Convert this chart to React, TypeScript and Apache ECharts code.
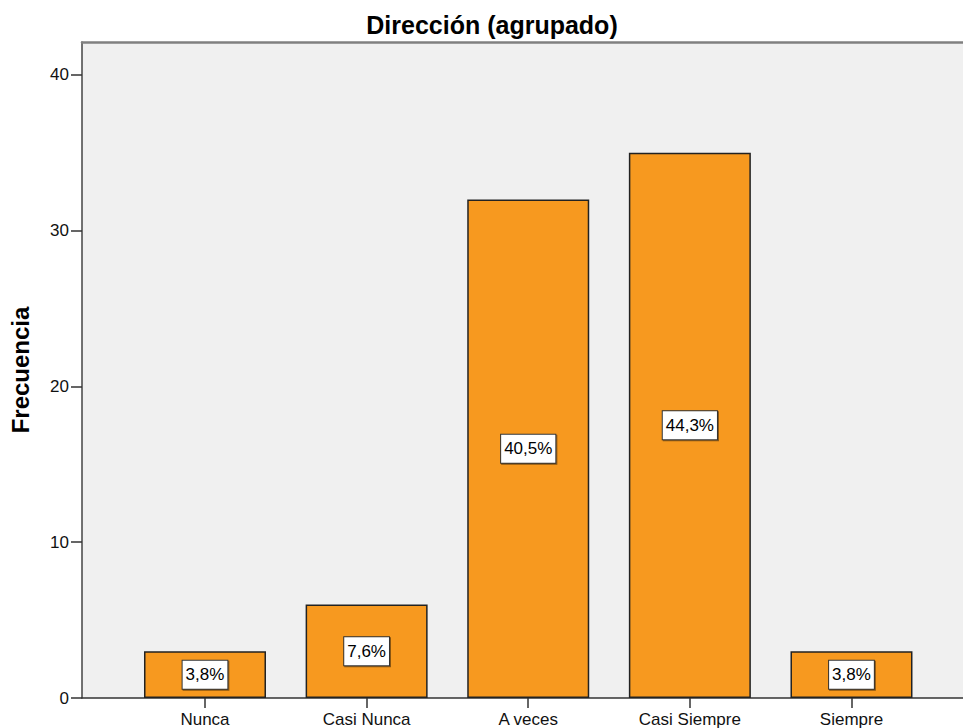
import React, { useEffect, useRef } from "react";
import * as echarts from "echarts";

// Frequencies per response category
const categories = ["Nunca", "Casi Nunca", "A veces", "Casi Siempre", "Siempre"];
const counts = [3, 6, 32, 35, 3];
const yTicks = [0, 10, 20, 30, 40];

const total = counts.reduce((a, b) => a + b, 0);
const pctLabel = (v: number) => ((v / total) * 100).toFixed(1).replace(".", ",") + "%";

const FONT = "'Liberation Sans', Arial, sans-serif";

// Horizontal extent of the plot, in category-index units
const X_MIN = -0.761;
const X_MAX = 4.69;

export default function App() {
  const ref = useRef<HTMLDivElement>(null);

  useEffect(() => {
    if (!ref.current) return;
    const chart = echarts.init(ref.current, undefined, { renderer: "svg" });
    const catIdx = categories.map((_, i) => i);

    chart.setOption({
      animation: false,
      backgroundColor: "#ffffff",
      textStyle: { fontFamily: FONT },
      title: {
        text: "Dirección (agrupado)",
        left: 487,
        top: 7,
        textAlign: "center",
        textStyle: { fontFamily: FONT, fontSize: 25, fontWeight: "bold", color: "#000" },
      },
      grid: {
        left: 80,
        right: 0,
        top: 42,
        bottom: 30,
        show: true,
        backgroundColor: "#F0F0F0",
        borderWidth: 0,
      },
      xAxis: [
        {
          type: "value",
          min: X_MIN,
          max: X_MAX,
          splitLine: { show: false },
          axisLine: { show: true, onZero: false, lineStyle: { color: "#333", width: 1.5 } },
          axisTick: {
            show: true,
            length: 10,
            customValues: catIdx,
            lineStyle: { color: "#333", width: 1.5 },
          },
          axisLabel: {
            customValues: catIdx,
            margin: 13,
            fontFamily: FONT,
            fontSize: 17,
            color: "#111",
            formatter: (v: number) => categories[Math.round(v)] ?? "",
          },
        },
        {
          type: "value",
          position: "top",
          min: X_MIN,
          max: X_MAX,
          splitLine: { show: false },
          axisLine: { show: true, onZero: false, lineStyle: { color: "#808080", width: 2.5 } },
          axisTick: { show: false },
          axisLabel: { show: false },
        },
      ],
      yAxis: {
        type: "value",
        min: 0,
        max: 42.1,
        name: "Frecuencia",
        nameLocation: "middle",
        nameGap: 50,
        nameTextStyle: { fontFamily: FONT, fontSize: 24, fontWeight: "bold", color: "#000" },
        splitLine: { show: false },
        axisLine: { show: true, onZero: false, lineStyle: { color: "#444", width: 1.5 } },
        axisTick: {
          show: true,
          length: 11,
          customValues: yTicks,
          lineStyle: { color: "#333", width: 1.5 },
        },
        axisLabel: {
          customValues: yTicks,
          margin: 13,
          fontFamily: FONT,
          fontSize: 17,
          color: "#111",
        },
      },
      series: [
        {
          type: "bar",
          xAxisIndex: 0,
          barWidth: 122,
          data: counts.map((v, i) => [i, v]),
          itemStyle: { color: "#F7991F", borderColor: "#222", borderWidth: 1.5 },
          label: {
            show: true,
            position: "inside",
            formatter: (p: any) => pctLabel(p.value[1]),
            fontFamily: FONT,
            fontSize: 17,
            color: "#000",
            backgroundColor: "#ffffff",
            borderColor: "#333",
            borderWidth: 1,
            padding: [6, 3, 5, 3],
            shadowColor: "rgba(0,0,0,0.45)",
            shadowOffsetX: 1,
            shadowOffsetY: 1,
            shadowBlur: 0,
          },
        },
      ],
    });

    return () => chart.dispose();
  }, []);

  return (
    <div
      ref={ref}
      style={{ position: "absolute", left: 0, top: 0, width: 963, height: 728 }}
    />
  );
}
